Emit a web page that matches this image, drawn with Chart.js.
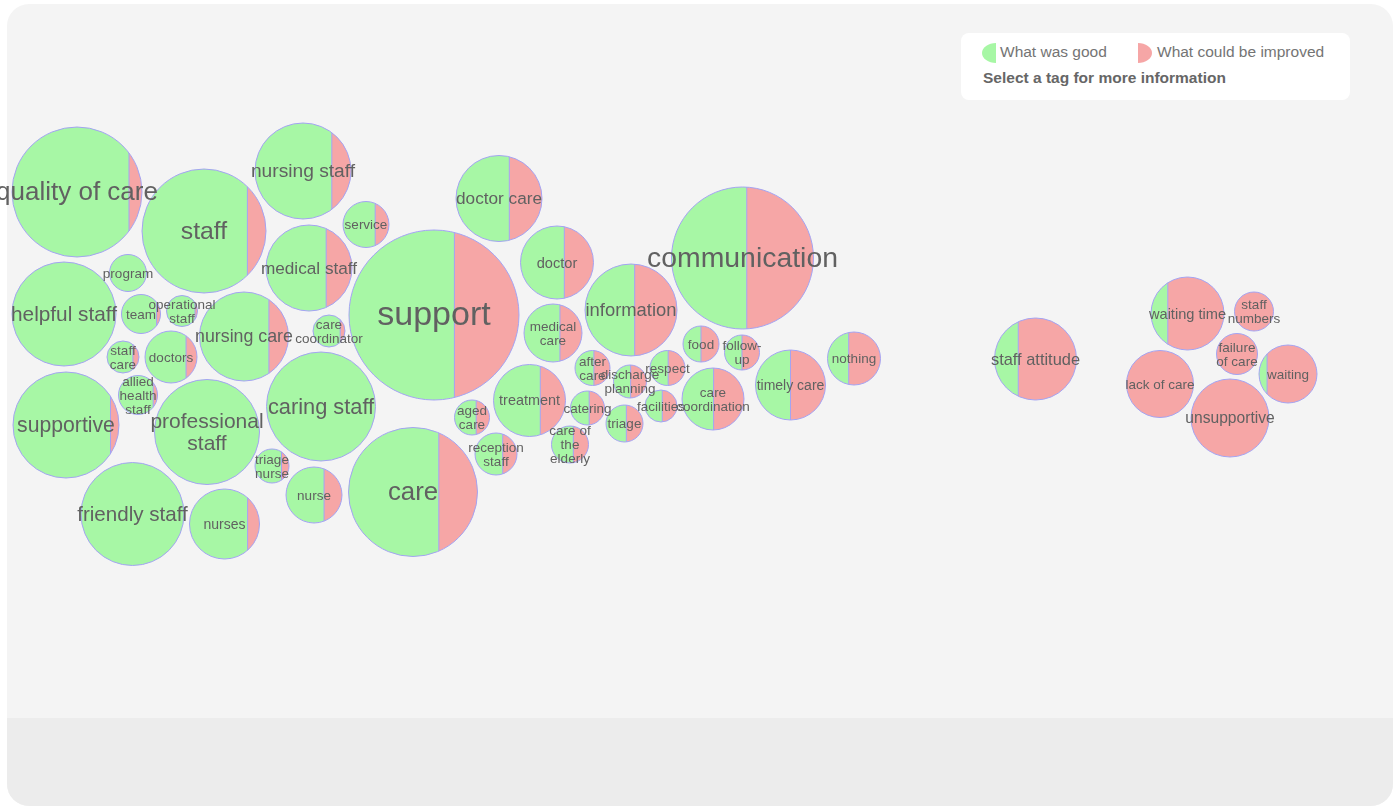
<!DOCTYPE html>
<html>
<head>
<meta charset="utf-8">
<script src="https://cdn.jsdelivr.net/npm/chart.js@4/dist/chart.umd.min.js"></script>
<style>
  html, body { margin: 0; padding: 0; background: #fff; width: 1397px; height: 807px; overflow: hidden;
    font-family: "Liberation Sans", Arial, sans-serif; }
  .panel { position: absolute; left: 7px; top: 4px; width: 1386px; height: 802px; border-radius: 22px;
    background: #f4f4f4; overflow: hidden; }
  .panel .foot { position: absolute; left: 0; right: 0; top: 714px; bottom: 0; background: #ececec; }
  #chartBox { position: absolute; left: 0; top: 0; width: 1397px; height: 807px; }
  .legend { position: absolute; left: 961px; top: 33px; width: 389px; height: 67px; background: #fff;
    border-radius: 8px; color: #747474; font-size: 15.5px; }
  .legend .icon { position: absolute; top: 10px; width: 14px; height: 20px; }
  .legend .good { left: 21px; background: #a7f7a5; border-radius: 14px 0 0 14px / 10px 0 0 10px; }
  .legend .bad { left: 177px; background: #f6a6a6; border-radius: 0 14px 14px 0 / 0 10px 10px 0; }
  .legend .txt { position: absolute; top: 10px; line-height: 18px; }
  .legend .hint { position: absolute; left: 22px; top: 36px; line-height: 18px; font-weight: bold; color: #666; }
</style>
</head>
<body>
<div class="panel"><div class="foot"></div></div>
<div id="chartBox"><canvas id="tagChart" width="1397" height="807"></canvas></div>
<div class="legend">
  <div class="icon good"></div><div class="txt" style="left:39px">What was good</div>
  <div class="icon bad"></div><div class="txt" style="left:196px">What could be improved</div>
  <div class="hint">Select a tag for more information</div>
</div>
<script>
// tags, bubble layout position, bubble radius and share of "good" mentions (%)
const tags = [
  "quality of care", "staff", "nursing staff", "service", "doctor care", "medical staff", "program",
  "helpful staff", "team", "operational\nstaff", "nursing care", "care\ncoordinator", "support", "doctor",
  "communication", "information", "medical\ncare", "staff\ncare", "doctors", "allied\nhealth\nstaff",
  "supportive", "professional\nstaff", "caring staff", "triage\nnurse", "nurse", "friendly staff", "nurses",
  "care", "aged\ncare", "reception\nstaff", "treatment", "after\ncare", "discharge\nplanning", "respect",
  "food", "follow-\nup", "catering", "care of\nthe\nelderly", "triage", "facilities", "care\ncoordination",
  "timely care", "nothing", "staff attitude", "waiting time", "staff\nnumbers", "failure\nof care",
  "waiting", "lack of care", "unsupportive"
];
const posX = [
  77, 204, 303, 366, 499, 309, 128,
  64, 141, 182, 244, 329, 434, 557,
  742.5, 631, 553, 123, 171, 138,
  66, 207, 321, 272, 314, 132.5, 224.5,
  413, 472, 496, 529.5, 592.5, 630, 667.5,
  701, 742, 587.5, 570, 624.5, 661, 713,
  790.5, 854, 1035.5, 1187.5, 1254, 1237,
  1288, 1160, 1230
];
const posY = [
  192, 231, 171, 224.5, 198.5, 268, 273,
  314, 314, 311, 336.5, 331, 315, 262.5,
  258, 310, 333, 357, 357, 395,
  425, 432, 406.5, 466, 495, 514, 524,
  492, 417.5, 454, 400.5, 368, 381.5, 368,
  344, 352.5, 408, 444.5, 423.5, 406, 399,
  385, 358.5, 359, 313.5, 311.5, 354,
  374, 384, 418
];
const sizes = [
  65, 62, 48, 23, 43, 43, 18.5,
  52, 19.5, 15.5, 44.5, 16, 85, 36.5,
  71, 46, 29, 16, 26, 19.5,
  53, 52.5, 54.5, 17, 28, 51.5, 35,
  64.5, 17.5, 21, 36, 17.5, 16.5, 17.5,
  18, 17.5, 17, 18.5, 18.5, 16, 31,
  35, 26.5, 41, 36.5, 19.5, 20.5,
  29, 33.5, 39
];
const goodShare = [
  90, 85, 80, 70, 62, 70, 100,
  100, 90, 92, 78, 85, 62, 60,
  53, 54, 62, 81, 79, 89,
  92, 100, 100, 78, 68, 100, 83,
  70, 62, 66, 65, 54, 52, 52,
  50, 50, 55, 59, 55, 54, 51,
  50, 40, 29, 23, 0, 0,
  14, 0, 0
];

const GOOD_COLOR = "#a7f7a5";
const BAD_COLOR = "#f6a6a6";
const OUTLINE = "#a3a3f2";
const LABEL_COLOR = "#616161";

// fills each bubble green/red split at its share, then writes the tag on top
const splitBubbles = {
  id: "splitBubbles",
  beforeDatasetsDraw(chart) {
    const ctx = chart.ctx;
    chart.getDatasetMeta(0).data.forEach((pt, i) => {
      const r = pt.options.radius;
      const x = pt.x, y = pt.y;
      const cut = x + r * (2 * goodShare[i] / 100 - 1);
      ctx.save();
      ctx.beginPath();
      ctx.arc(x, y, r, 0, Math.PI * 2);
      ctx.clip();
      ctx.fillStyle = GOOD_COLOR;
      ctx.fillRect(x - r - 1, y - r - 1, cut - (x - r) + 1, 2 * r + 2);
      ctx.fillStyle = BAD_COLOR;
      ctx.fillRect(cut, y - r - 1, x + r - cut + 1, 2 * r + 2);
      ctx.restore();
      if (goodShare[i] > 0 && goodShare[i] < 100) {
        const d = cut - x;
        const h = Math.sqrt(Math.max(0, r * r - d * d));
        ctx.save();
        ctx.strokeStyle = OUTLINE;
        ctx.lineWidth = 1;
        ctx.beginPath();
        ctx.moveTo(cut, y - h);
        ctx.lineTo(cut, y + h);
        ctx.stroke();
        ctx.restore();
      }
    });
  },
  afterDatasetsDraw(chart) {
    const ctx = chart.ctx;
    chart.getDatasetMeta(0).data.forEach((pt, i) => {
      const r = pt.options.radius;
      const fs = Math.max(13.5, r * 0.4);
      const lh = fs * 1.05;
      const lines = tags[i].split("\n");
      ctx.save();
      ctx.font = fs + 'px "Liberation Sans", Arial, sans-serif';
      ctx.fillStyle = LABEL_COLOR;
      ctx.textAlign = "center";
      ctx.textBaseline = "middle";
      const top = pt.y - (lines.length - 1) * lh / 2;
      lines.forEach((line, k) => ctx.fillText(line, pt.x, top + k * lh + 1));
      ctx.restore();
    });
  }
};

function buildChart() {
  const ctx = document.getElementById("tagChart").getContext("2d");
  return new Chart(ctx, {
    type: "bubble",
    data: {
      datasets: [{
        label: "tags",
        data: tags.map((t, i) => ({ x: posX[i], y: posY[i], r: sizes[i] })),
        backgroundColor: "rgba(0,0,0,0)",
        borderColor: OUTLINE,
        borderWidth: 1,
        hoverBorderWidth: 1,
        clip: false
      }]
    },
    options: {
      responsive: false,
      animation: false,
      events: [],
      layout: { padding: 0, autoPadding: false },
      plugins: { legend: { display: false }, tooltip: { enabled: false } },
      scales: {
        x: { type: "linear", min: 0, max: 1397, display: false },
        y: { type: "linear", min: 0, max: 807, reverse: true, display: false }
      }
    },
    plugins: [splitBubbles]
  });
}

buildChart();
</script>
</body>
</html>
